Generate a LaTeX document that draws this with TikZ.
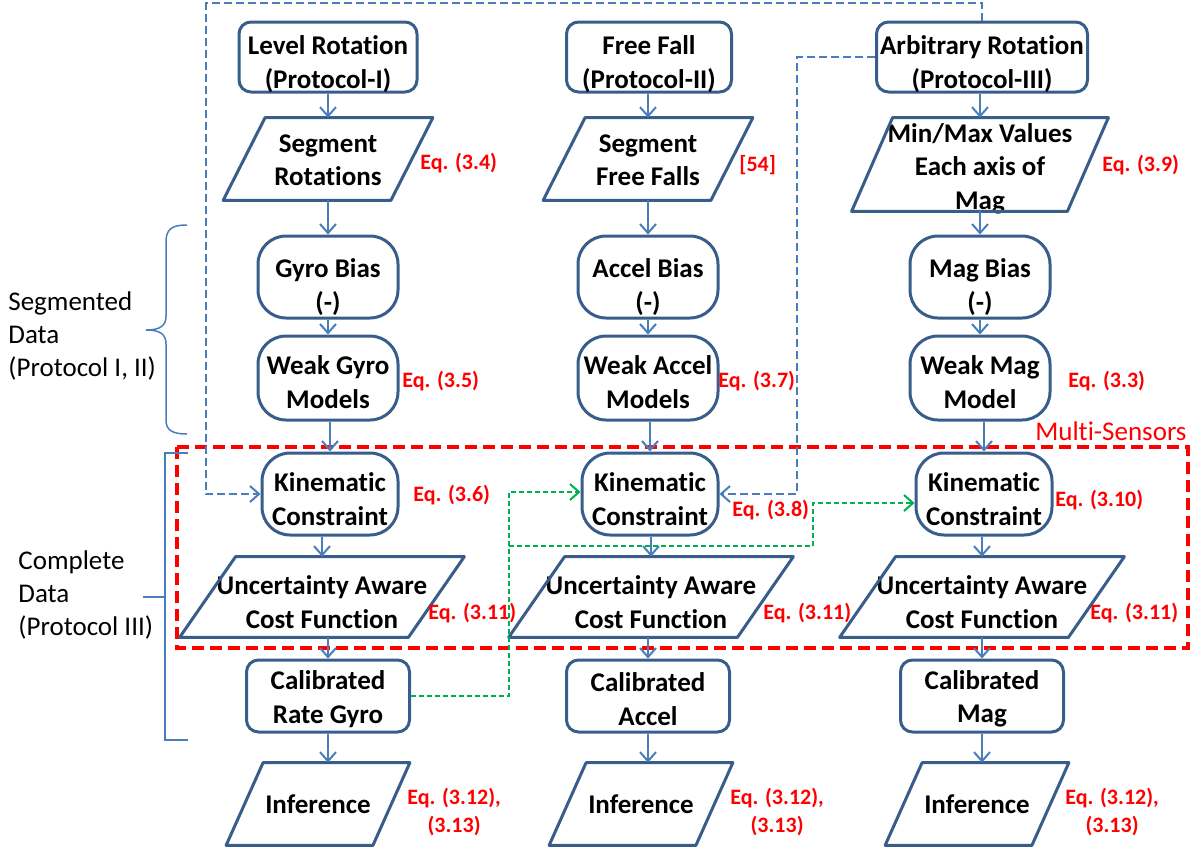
\documentclass[tikz,border=0pt]{standalone}
\usepackage{fontspec}
\setmainfont{Carlito}[Ligatures=NoCommon]
\usetikzlibrary{arrows.meta}
\definecolor{boxc}{HTML}{385D8A}
\definecolor{arrc}{HTML}{4A7EBB}
\definecolor{grn}{HTML}{00B050}
\begin{document}
\begin{tikzpicture}[x=0.5pt,y=-0.5pt]
\tikzset{
  txt/.style={font=\bfseries\fontsize{13.5pt}{16.75pt}\selectfont, align=center, inner sep=0pt, text=black},
  rbox/.style={draw=boxc, line width=1.5pt, fill=white, rounded corners=6pt, inner sep=0pt},
  pill/.style={draw=boxc, line width=1.5pt, fill=white, rounded corners=14pt, inner sep=0pt, minimum width=70pt},
  para/.style={inner sep=0pt},
  eq/.style={font=\bfseries\fontsize{11pt}{14pt}\selectfont, text=red, align=center, inner sep=0pt, anchor=west},
  side/.style={font=\fontsize{13.5pt}{16.5pt}\selectfont, align=left, inner sep=0pt, anchor=west},
  tip/.style={-{Straight Barb[length=4.5pt,width=8pt]}},
  arr/.style={draw=arrc, line width=1pt, tip},
  bdash/.style={draw=arrc, line width=1pt, dash pattern=on 4pt off 2pt},
  gdash/.style={draw=grn, line width=1pt, dash pattern=on 2.5pt off 1.5pt},
  rdash/.style={draw=red, line width=2pt, dash pattern=on 6pt off 3pt},
  pline/.style={draw=boxc, line width=1.5pt, line join=round},
  brk/.style={draw=arrc, line width=0.75pt}
}
\useasboundingbox (0,0) rectangle (1196,853);

% multi-sensor group frame
\draw[rdash] (177,447) rectangle (1188,648);
\node[font=\fontsize{13.5pt}{16pt}\selectfont, text=red, anchor=east, inner sep=0pt] (ms) at (1187,431) {Multi-Sensors};

% protocols
\node[rbox, minimum width=89pt, minimum height=35pt,
  label={[txt, yshift=-3.5pt]center:{Level Rotation\\(Protocol-I)}}] (lev) at (328,57) {};
\node[rbox, minimum width=82.5pt, minimum height=35pt,
  label={[txt, yshift=-3.5pt]center:{Free Fall\\(Protocol-II)}}] (ff) at (649,57) {};
\node[rbox, minimum width=105.5pt, minimum height=35pt,
  label={[txt, yshift=-3.5pt]center:{Arbitrary Rotation\\(Protocol-III)}}] (arb) at (982,57) {};

% segmentation (outlines drawn below)
\node[para, minimum width=104.5pt, minimum height=41pt,
  label={[txt, yshift=-0.5pt]center:{Segment\\Rotations}}] (seg1) at (328,159) {};
\node[para, minimum width=104.5pt, minimum height=41pt,
  label={[txt, yshift=-0.5pt]center:{Segment\\Free Falls}}] (seg2) at (648,159) {};
\node[para, minimum width=128pt, minimum height=46.5pt,
  label={[txt, yshift=-2pt]center:{Min/Max Values\\Each axis of\\Mag}}] (mm3) at (980,164.5) {};

% biases
\node[pill, minimum height=41pt,
  label={[txt, yshift=-5pt]center:{Gyro Bias\\(-)}}] (gb) at (328,277) {};
\node[pill, minimum height=41pt,
  label={[txt, yshift=-5pt]center:{Accel Bias\\(-)}}] (ab) at (648,277) {};
\node[pill, minimum height=41pt,
  label={[txt, yshift=-5pt]center:{Mag Bias\\(-)}}] (mb) at (980,277) {};

% weak models
\node[pill, minimum height=42pt,
  label={[txt, yshift=-2pt]center:{Weak Gyro\\Models}}] (wg) at (328,378) {};
\node[pill, minimum height=42pt,
  label={[txt, yshift=-2pt]center:{Weak Accel\\Models}}] (wa) at (648,378) {};
\node[pill, minimum height=42pt,
  label={[txt, yshift=-2pt]center:{Weak Mag\\Model}}] (wm) at (980,378) {};

% kinematic constraints
\node[pill, minimum width=68pt, minimum height=41pt,
  label={[txt, yshift=-2.5pt]center:{Kinematic\\Constraint}}] (k1) at (330,494) {};
\node[pill, minimum width=68pt, minimum height=41pt,
  label={[txt, yshift=-2.5pt]center:{Kinematic\\Constraint}}] (k2) at (650,494) {};
\node[pill, minimum width=68pt, minimum height=41pt,
  label={[txt, yshift=-2.5pt]center:{Kinematic\\Constraint}}] (k3) at (984,494) {};

% cost functions
\node[para, minimum width=142pt, minimum height=40pt,
  label={[txt, yshift=-2.5pt]center:{Uncertainty Aware\\Cost Function}}] (u1) at (322,597) {};
\node[para, minimum width=142pt, minimum height=40pt,
  label={[txt, yshift=-2.5pt]center:{Uncertainty Aware\\Cost Function}}] (u2) at (651,597) {};
\node[para, minimum width=142pt, minimum height=40pt,
  label={[txt, yshift=-2.5pt]center:{Uncertainty Aware\\Cost Function}}] (u3) at (982,597) {};

% calibrated sensors
\node[rbox, minimum width=81.5pt, minimum height=36pt,
  label={[txt, yshift=-1.5pt]center:{Calibrated\\Rate Gyro}}] (c1) at (328,696) {};
\node[rbox, minimum width=81.5pt, minimum height=36pt,
  label={[txt, yshift=-1.5pt]center:{Calibrated\\Accel}}] (c2) at (648,696) {};
\node[rbox, minimum width=81.5pt, minimum height=36pt,
  label={[txt, yshift=-1.5pt]center:{Calibrated\\Mag}}] (c3) at (982,696) {};

% inference
\node[para, minimum width=91.5pt, minimum height=41pt,
  label={[txt]center:Inference}] (i1) at (318,804) {};
\node[para, minimum width=91.5pt, minimum height=41pt,
  label={[txt]center:Inference}] (i2) at (641,804) {};
\node[para, minimum width=91.5pt, minimum height=41pt,
  label={[txt]center:Inference}] (i3) at (977,804) {};

% parallelogram outlines
\foreach \n/\s in {seg1/21pt, seg2/21pt, mm3/20.5pt, u1/28pt, u2/28pt, u3/28pt, i1/18.5pt, i2/18.5pt, i3/18.5pt}
  \draw[pline] ([xshift=\s]\n.north west) -- (\n.north east) -- ([xshift=-\s]\n.south east) -- (\n.south west) -- cycle;

% main flow
\foreach \a/\b in {lev/seg1, seg1/gb, gb/wg, wg/k1, k1/u1, u1/c1,
                   ff/seg2, seg2/ab, ab/wa, wa/k2, k2/u2, u2/c2,
                   arb/mm3, mm3/mb, mb/wm, wm/k3, k3/u3, u3/c3}
  \draw[arr] (\a.south -| \b.north) -- (\b.north);
\foreach \a/\b in {c1/i1, c2/i2, c3/i3}
  \draw[arr] (\a.south) -- (\a.south |- \b.north);

% arbitrary-rotation data to the kinematic constraints
\coordinate (tl) at (206,3);
\coordinate (bv) at (797,57);
\draw[bdash, tip] (arb.north) -- (arb.north |- tl) -- (tl) -- (tl |- k1.west) -- (k1.west);
\draw[bdash, tip] (arb.west) -- (bv) -- (bv |- k2.east) -- (k2.east);

% calibrated gyro fed to the other sensors
\coordinate (gv) at (509,492);
\coordinate (gj) at (509,546);
\coordinate (gk) at (813,503);
\draw[gdash, tip] (c1.east) -- (c1.east -| gv) -- (gv) -- (gv -| k2.west);
\draw[gdash, tip] (gj) -- (gj -| gk) -- (gk) -- (gk -| k3.west);

% equation references
\node[eq] (e34) at (420,163) {Eq. (3.4)};
\node[eq] (r54) at (739,165) {[54]};
\node[eq] (e39) at (1102,165) {Eq. (3.9)};
\node[eq] (e35) at (402,381) {Eq. (3.5)};
\node[eq] (e37) at (718,381) {Eq. (3.7)};
\node[eq] (e33) at (1068,381) {Eq. (3.3)};
\node[eq] (e36) at (413,495) {Eq. (3.6)};
\node[eq] (e38) at (732,510) {Eq. (3.8)};
\node[eq] (e310) at (1055,500) {Eq. (3.10)};
\node[eq] (e311a) at (428,613) {Eq. (3.11)};
\node[eq] (e311b) at (763,613) {Eq. (3.11)};
\node[eq] (e311c) at (1090,613) {Eq. (3.11)};
\node[eq] (e312a) at (407,812) {Eq. (3.12),\\(3.13)};
\node[eq] (e312b) at (730,812) {Eq. (3.12),\\(3.13)};
\node[eq] (e312c) at (1065,812) {Eq. (3.12),\\(3.13)};

% data groupings on the left
\node[side] (segd) at (8,336) {Segmented\\Data\\(Protocol I, II)};
\node[side] (compd) at (18,595) {Complete\\Data\\(Protocol III)};
\draw[brk] (187,225) .. controls (172,225) and (166,229) .. (166,242) -- (166,316)
  .. controls (166,326) and (160,330) .. (146,330)
  .. controls (160,330) and (166,334) .. (166,344) -- (166,420)
  .. controls (166,430) and (172,434) .. (187,434);
\draw[brk] (188,453) -- (165,453) -- (165,740) -- (188,740);
\draw[brk] (143,597) -- (165,597);
\end{tikzpicture}
\end{document}
